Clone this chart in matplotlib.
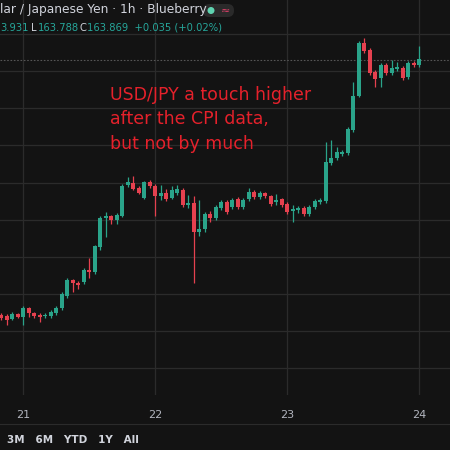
import matplotlib
matplotlib.use("Agg")
import matplotlib.pyplot as plt
from matplotlib.lines import Line2D
from matplotlib.patches import FancyBboxPatch, Circle

O = [162.725,162.72,162.705,162.73,162.715,162.76,162.735,162.725,162.72,162.72,162.735,162.76,162.82,162.90,162.885,162.89,162.95,162.94,163.065,163.21,
     163.22,163.20,163.22,163.375,163.385,163.36,163.31,163.39,163.37,163.32,163.335,163.31,163.335,163.35,163.275,163.285,163.14,163.155,163.23,163.21,
     163.26,163.29,163.265,163.305,163.265,163.305,163.34,163.315,163.335,163.32,163.29,163.305,163.28,163.245,163.25,163.26,163.23,163.265,163.29,163.295,
     163.485,163.51,163.53,163.535,163.65,163.82,164.085,164.05,163.94,163.91,163.975,163.935,163.955,163.96,163.915,163.985,163.975]
C = [162.71,162.70,162.73,162.715,162.76,162.735,162.72,162.715,162.725,162.74,162.76,162.83,162.90,162.885,162.875,162.95,162.94,163.07,163.21,163.22,
     163.20,163.225,163.37,163.39,163.355,163.335,163.39,163.37,163.32,163.335,163.305,163.35,163.355,163.275,163.285,163.14,163.155,163.23,163.21,163.265,
     163.29,163.24,163.30,163.265,163.30,163.34,163.315,163.335,163.32,163.28,163.30,163.275,163.24,163.255,163.26,163.23,163.265,163.295,163.30,163.49,
     163.51,163.54,163.54,163.655,163.82,164.085,164.045,163.935,163.905,163.975,163.935,163.96,163.965,163.91,163.985,163.975,164.005]
H = [162.735,162.73,162.74,162.735,162.77,162.765,162.74,162.735,162.735,162.75,162.77,162.84,162.91,162.905,162.895,162.96,163.01,163.075,163.22,163.24,
     163.225,163.235,163.38,163.415,163.42,163.37,163.395,163.40,163.38,163.375,163.355,163.37,163.375,163.36,163.325,163.32,163.30,163.24,163.245,163.275,
     163.30,163.30,163.31,163.315,163.31,163.36,163.35,163.345,163.34,163.325,163.33,163.31,163.29,163.275,163.27,163.27,163.275,163.305,163.31,163.59,
     163.60,163.565,163.55,163.665,163.89,164.095,164.11,164.06,163.95,163.985,163.985,164.00,163.99,163.97,163.995,163.995,164.07]
L = [162.70,162.675,162.70,162.71,162.675,162.715,162.71,162.69,162.71,162.71,162.725,162.75,162.81,162.84,162.855,162.88,162.91,162.93,163.05,163.115,
     163.18,163.18,163.215,163.365,163.35,163.33,163.305,163.36,163.22,163.30,163.295,163.305,163.325,163.265,163.26,162.885,163.12,163.14,163.19,163.20,
     163.25,163.23,163.255,163.255,163.255,163.295,163.305,163.305,163.31,163.27,163.275,163.265,163.23,163.19,163.235,163.22,163.22,163.255,163.28,163.285,
     163.475,163.50,163.52,163.525,163.64,163.815,164.035,163.925,163.865,163.865,163.925,163.925,163.945,163.90,163.905,163.965,163.965]
day_labels = ["21", "22", "23", "24"]
day_index = [4, 28, 52, 76]
grid_prices = [164.13, 163.945, 163.76, 163.575, 163.385, 163.20, 163.015, 162.83, 162.645, 162.46]
last_price = 164.00

BG = "#131313"; UP = "#2aa48a"; DN = "#e5414f"; GRID = "#2b2b2b"
fig = plt.figure(figsize=(4.5, 4.5), dpi=100, facecolor=BG)
ax = fig.add_axes([0, 55/450, 1, 395/450], facecolor=BG)

for i in range(len(O)):
    col = UP if C[i] >= O[i] else DN
    ax.vlines(i, L[i], H[i], color=col, lw=0.9, zorder=3)
    lo, hi = min(O[i], C[i]), max(O[i], C[i])
    ax.bar(i, max(hi - lo, 0.004), bottom=lo, width=0.72, color=col, zorder=4)

ax.axhline(last_price, color="#555555", lw=0.8, ls=(0, (1.5, 1.5)), zorder=2)
ax.set_xlim(-0.2, 81.6)
ax.set_ylim(162.325, 164.30)
ax.set_yticks(grid_prices)
ax.set_xticks(day_index)
ax.set_xticklabels(day_labels)
ax.grid(True, color=GRID, lw=0.9, zorder=0)
ax.tick_params(axis="y", left=False, labelleft=False)
ax.tick_params(axis="x", length=0, pad=11, colors="#b2b5be", labelsize=8)
for s in ax.spines.values():
    s.set_visible(False)

ax.text(110/450*81.8 - 0.2, 163.87, "USD/JPY a touch higher\nafter the CPI data,\nbut not by much",
        color="#e5212b", fontsize=12.5, va="top", ha="left", linespacing=1.45, zorder=5)

fig.text(0, 1 - 10/450, "lar / Japanese Yen · 1h · Blueberry", color="#d1d4dc", fontsize=8.8, va="center")
y2 = 1 - 28/450
fig.text(0, y2, "3.931", color="#26a69a", fontsize=7.2, va="center")
fig.text(31/450, y2, "L", color="#d1d4dc", fontsize=7.2, va="center")
fig.text(38/450, y2, "163.788", color="#26a69a", fontsize=7.2, va="center")
fig.text(79/450, y2, "C", color="#d1d4dc", fontsize=7.2, va="center")
fig.text(87/450, y2, "163.869  +0.035 (+0.02%)", color="#26a69a", fontsize=7.2, va="center")
fig.patches.append(FancyBboxPatch((203/450, 1 - 17/450), 31/450, 13/450, boxstyle="round,pad=0,rounding_size=0.014",
                                  transform=fig.transFigure, facecolor="#2a2a2a", edgecolor="none"))
fig.patches.append(Circle((211/450, 1 - 10.5/450), 3.5/450, transform=fig.transFigure, facecolor="#5fd3b0"))
fig.text(226/450, 1 - 11/450, "≈", color="#e0406a", fontsize=8, va="center", ha="center")

fig.add_artist(Line2D([0, 1], [26/450, 26/450], color="#2b2b2b", lw=0.8, transform=fig.transFigure))
fig.text(7/450, 10/450, "3M   6M   YTD   1Y   All", color="#d1d4dc", fontsize=7.5, va="center", fontweight="bold")

fig.savefig("out.png", dpi=100, facecolor=BG)
